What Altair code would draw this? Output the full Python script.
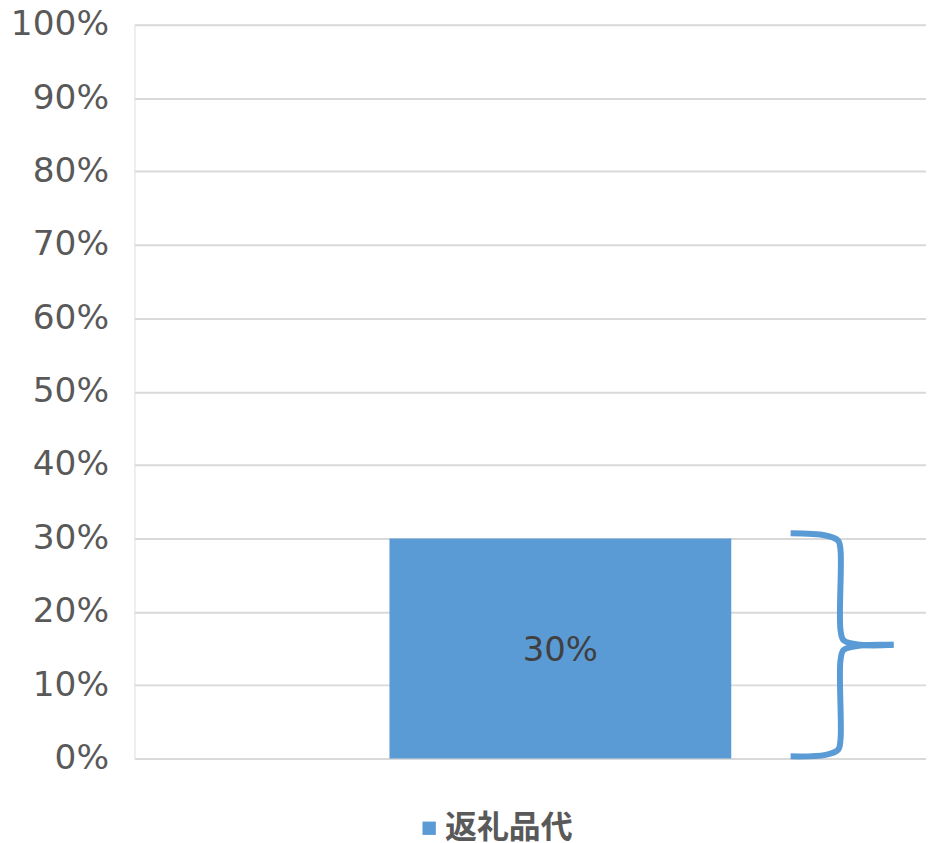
import altair as alt
import pandas as pd

categories = ["返礼品代"]
values = [0.30]
y_ticks = [0, 0.1, 0.2, 0.3, 0.4, 0.5, 0.6, 0.7, 0.8, 0.9, 1.0]

# brace annotation path (x in a hidden 0-100 scale, y in data units)
brace_part = ["a"] * 8 + ["b"] * 8
brace_order = list(range(8)) + list(range(8))
brace_x = [82.9, 87.3, 88.9, 89.2, 89.2, 89.6, 91.7, 95.9,
           82.9, 87.3, 88.9, 89.2, 89.2, 89.6, 91.7, 95.9]
brace_y = [0.307, 0.304, 0.297, 0.284, 0.175, 0.161, 0.155, 0.155,
           0.003, 0.005, 0.012, 0.026, 0.134, 0.148, 0.154, 0.155]

FONT = "DejaVu Sans"
CJK = "Noto Sans CJK JP"
BLUE = "#5B9BD5"

bar_df = pd.DataFrame({"cat": categories, "value": values})
brace_df = pd.DataFrame({"part": brace_part, "i": brace_order, "bx": brace_x, "by": brace_y})

y_scale = alt.Scale(domain=[0, 1], nice=False)
band_scale = alt.Scale(type="band", paddingInner=0, paddingOuter=0.658, align=0.567)

bars = alt.Chart(bar_df).mark_bar(color=BLUE).encode(
    x=alt.X("cat:N", scale=band_scale, axis=None),
    y=alt.Y("value:Q", scale=y_scale,
            axis=alt.Axis(values=y_ticks, format=".0%", title=None, domain=False, ticks=False,
                          labelFontSize=34.5, labelColor="#595959", labelFont=FONT,
                          labelPadding=26, gridColor="#D9D9D9", gridWidth=2)),
    opacity=alt.Opacity("cat:N", legend=alt.Legend(
        title=None, orient="none", legendX=280, legendY=791, symbolType="square",
        symbolSize=180, symbolFillColor=BLUE, symbolStrokeWidth=0, symbolOpacity=1,
        labelFontSize=32, labelFont=CJK, labelColor="#595959", labelFontWeight="bold",
        labelOffset=0), scale=alt.Scale(range=[1])),
)

labels = alt.Chart(bar_df).transform_calculate(mid="datum.value / 2").mark_text(
    font=FONT, fontSize=34, color="#404040", baseline="middle", dy=3
).encode(
    x=alt.X("cat:N", scale=band_scale, axis=None, bandPosition=0.5),
    y=alt.Y("mid:Q", scale=y_scale),
    text=alt.Text("value:Q", format=".0%"),
)

brace = alt.Chart(brace_df).mark_line(
    color=BLUE, strokeWidth=6, interpolate="catmull-rom", strokeCap="butt", strokeJoin="round"
).encode(
    x=alt.X("bx:Q", scale=alt.Scale(domain=[0, 100], nice=False, zero=False), axis=None),
    y=alt.Y("by:Q", scale=y_scale),
    detail="part:N",
    order="i:Q",
)

chart = alt.layer(bars, labels, brace).resolve_scale(x="independent").properties(
    width=795, height=737,
    autosize=alt.AutoSizeParams(type="none"),
    padding={"left": 127, "top": 15, "right": 0, "bottom": 85},
).configure_view(stroke=None).configure(background="white")

chart.save("out.html", embed_options={"renderer": "svg", "actions": False})
